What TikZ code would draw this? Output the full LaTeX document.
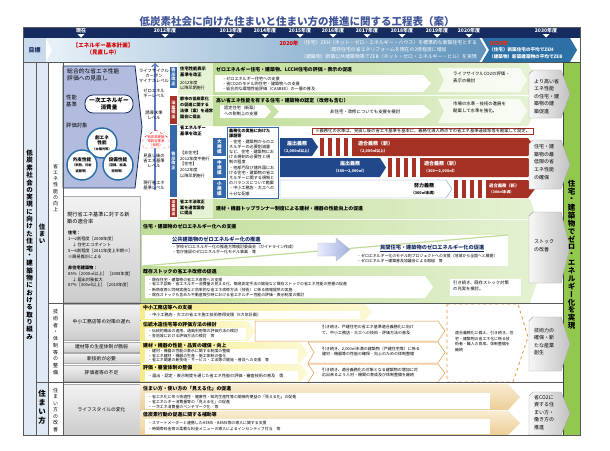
\documentclass[tikz,border=0pt]{standalone}
\usepackage{fontspec}
\setmainfont{Noto Sans CJK JP}
\newfontfamily\tatefont[RawFeature=+vert]{Noto Sans CJK JP}
\usetikzlibrary{calc}
\definecolor{titleblue}{RGB}{64,86,152}
\definecolor{navy}{RGB}{22,44,96}
\definecolor{goalblue}{RGB}{44,112,166}
\definecolor{goalmid}{RGB}{140,184,212}
\definecolor{goallight}{RGB}{232,241,248}
\definecolor{cellblue}{RGB}{200,218,236}
\definecolor{paleblue}{RGB}{224,234,245}
\definecolor{lav}{RGB}{178,188,222}
\definecolor{ringblue}{RGB}{38,108,168}
\definecolor{barblue}{RGB}{34,72,140}
\definecolor{tagblue}{RGB}{52,104,170}
\definecolor{arrowblue}{RGB}{96,124,200}
\definecolor{regred}{RGB}{166,50,38}
\definecolor{leaf}{RGB}{230,242,212}
\definecolor{leafdk}{RGB}{192,221,152}
\definecolor{zgreen}{RGB}{146,200,78}
\definecolor{lemon}{RGB}{246,236,140}
\definecolor{lemonlt}{RGB}{252,249,212}
\definecolor{sandlt}{RGB}{248,236,210}
\definecolor{sand}{RGB}{236,206,150}
\definecolor{amber}{RGB}{226,150,60}
\newcommand\sm{\fontsize{3.2}{4}\selectfont}
\makeatletter
\def\tate@#1{\ifx#1\@nil\else\hbox to 1em{\hss\vbox to\tatep{\vss\hbox{#1}\vss}\hss}\expandafter\tate@\fi}
\newcommand\tate[2][1.1em]{\vbox{\offinterlineskip\tatefont\def\tatep{#1}\tate@#2\@nil}}
\makeatother

\begin{document}
\begin{tikzpicture}[x=1pt,y=-1pt,
 tx/.style={inner sep=0pt,anchor=north west,align=left,font=\fontsize{4.1}{5.1}\selectfont},
 hd/.style={inner sep=0pt,anchor=west,font=\bfseries\fontsize{4.9}{6}\selectfont},
 lbl/.style={inner sep=0pt,align=center,font=\fontsize{4.3}{5}\selectfont},
 tag/.style={inner sep=0pt,minimum width=7pt,text=white,font=\bfseries\fontsize{4.2}{5}\selectfont},
 ltag/.style={fill=tagblue,inner sep=0pt,minimum width=13pt,text=white,font=\bfseries\fontsize{4.6}{5}\selectfont},
 lbox/.style={draw=gray!65,top color=gray!10,bottom color=gray!40,inner sep=0pt,minimum width=77pt,font=\fontsize{4.8}{6}\selectfont},
 gbox/.style={draw=gray!70,left color=gray!6,right color=gray!48},
 gtx/.style={inner sep=0pt,anchor=north west,align=left,font=\fontsize{5}{7.5}\selectfont},
 band/.style={left color=leafdk,right color=leaf},
 ylw/.style={left color=lemon,right color=lemonlt},
 snd/.style={top color=sandlt,bottom color=sand},
 org/.style={draw=amber,fill=white,line width=0.5},
 wbt/.style={inner sep=0pt,text=white,font=\bfseries\fontsize{5}{6}\selectfont},
 vt/.style={inner sep=0pt}]
\useasboundingbox[fill=white] (0,0) rectangle (610,450);
\node[inner sep=0pt,text=titleblue,font=\bfseries\fontsize{10.5}{12}\selectfont] (title) at (297,21.5) {低炭素社会に向けた住まいと住まい方の推進に関する工程表（案）};
\fill[navy] (23,27) rectangle (580,38);
\foreach \x/\yr [count=\i] in {81/現在,165/2012年度,231/2013年度,265/2014年度,300/2015年度,333/2016年度,367/2017年度,402/2018年度,437/2019年度,469/2020年度,546/2030年度}{
 \node[wbt] (yr\i) at (\x,30.5) {\yr};
 \fill[white] (\x-3.5,34)--(\x+3.5,34)--(\x,37.5)--cycle;}
\fill[cellblue] (23,38) rectangle (46,62);
\node[inner sep=0pt,text=navy,font=\bfseries\fontsize{6}{7}\selectfont] (mokuhyo) at (34.5,50) {目標};
\shade[left color=goallight,middle color=goalmid,right color=goalblue!75!white] (46,38)--(480,38)--(487,50)--(480,62)--(46,62)--(52,50)--cycle;
\fill[goalblue] (482,38)--(570,38)--(577,50)--(570,62)--(482,62)--(489,50)--cycle;
\draw[white,line width=0.8] (480,38)--(487,50)--(480,62);
\node[inner sep=0pt,align=center,text=red!85!black,font=\bfseries\fontsize{5.5}{7}\selectfont] (kihon) at (103,48.5) {【エネルギー基本計画】\\（見直し中）};
\node[inner sep=0pt,text=red!85!black,font=\bfseries\fontsize{5.5}{6}\selectfont] (g20) at (289,43) {2020年};
\node[inner sep=0pt,align=center,text=white,font=\fontsize{4.9}{7}\selectfont] (g20t) at (389,50) {（住宅）ZEH（ネット・ゼロ・エネルギー・ハウス）を標準的な新築住宅とする\\既存住宅の省エネリフォームを現在の2倍程度に増加\\（建築物）新築公共建築物等でZEB（ネット・ゼロ・エネルギー・ビル）を実現};
\node[inner sep=0pt,anchor=west,text=red!70!orange,font=\bfseries\fontsize{5.5}{6}\selectfont] (g30) at (489,43) {2030年};
\node[inner sep=0pt,anchor=north west,align=left,text=white,font=\bfseries\fontsize{4.6}{7}\selectfont] (g30t) at (489,47.5) {（住宅）新築住宅の平均でZEH\\（建築物）新築建築物の平均でZEB};
\fill[paleblue] (23,62) rectangle (48,435);
\fill[zgreen] (563,62) rectangle (580,435);
\draw[navy,line width=0.8,fill=lav] (63,66)--(135,66)--(142,127)--(135,188)--(63,188)--cycle;
\node[tx,font=\fontsize{5.8}{7.2}\selectfont] (sogo) at (67,68) {総合的な省エネ性能\\評価への見直し};
\node[tx,font=\fontsize{5.3}{6.6}\selectfont] (kijun) at (66,95) {性能\\基準};
\node[draw=navy,fill=white,line width=0.8,rounded corners=8pt,minimum width=48pt,minimum height=18pt,inner sep=0pt,align=center,font=\bfseries\fontsize{5.6}{7}\selectfont] (ichiji) at (109,104) {一次エネルギー\\消費量};
\node[tx,font=\fontsize{5.3}{6.6}\selectfont] (taisho) at (66,123) {評価対象};
\node[circle,draw=ringblue,line width=1.4,fill=white,minimum size=30pt,inner sep=0pt,align=center,font=\bfseries\fontsize{4.6}{5.4}\selectfont] (soene) at (102,143) {創エネ\\性能\\{\sm（太陽光等）}};
\node[circle,draw=ringblue,line width=1.4,fill=white,minimum size=30pt,inner sep=0pt,align=center,font=\bfseries\fontsize{4.6}{5.4}\selectfont] (gaihi) at (82,165) {外皮性能\\{\sm（断熱、日射}\\{\sm 遮蔽等）}};
\node[circle,draw=ringblue,line width=1.4,fill=white,minimum size=30pt,inner sep=0pt,align=center,font=\bfseries\fontsize{4.6}{5.4}\selectfont] (setsubi) at (118,165) {設備性能\\{\sm（空調、給湯、}\\{\sm 照明等）}};
\coordinate (lvbot) at (155,190); \coordinate (lvtop) at (155,63);
\draw[->,arrowblue,line width=1.6] (lvbot)--(lvtop);
\node[lbl] (lcm) at (154,76) {ライフサイクル\\カーボン\\マイナスレベル};
\node[lbl] (zel) at (154,93) {ゼロエネル\\ギーレベル};
\node[lbl] (yudo) at (154,115) {誘導水準\\レベル};
\draw[red,dashed,fill=white] (143,148)--(143,138)--(156,130)--(169,138)--(169,148)--cycle;
\node[lbl,text=red,font=\fontsize{3.4}{4}\selectfont] (ninteilv) at (156,141.5) {低炭素建築\\物認定基準\\（仮称）};
\node[lbl] (minaoshi) at (154,161) {見直し後の\\省エネ基準\\レベル};
\node[lbl] (genko) at (154,185) {現行省エネ\\基準レベル};
\node[tag,fill=tagblue,minimum height=21pt] (kokuji1) at (173.5,77) {\tate{告示改正}};
\node[tag,fill=regred,minimum height=28pt] (hoan1) at (173.5,110) {\tate{法案提出}};
\node[tag,fill=tagblue,minimum height=72pt] (kokuji2) at (173.5,161) {\tate{告示改正}};
\node[tag,fill=regred,minimum height=18pt,font=\bfseries\fontsize{3.8}{4}\selectfont] (hoan2) at (173.5,208) {\tate{法案提出}};
\fill[leaf] (178,63) rectangle (213,95); \fill[leaf] (178,96) rectangle (213,126);
\node[tx,font=\bfseries\fontsize{4.3}{5.6}\selectfont] (hyoji) at (180,67) {住宅性能表示\\基準を改正};
\node[tx] (hyojit) at (180,81) {2012年度\\以降早期施行};
\node[tx,font=\bfseries\fontsize{4.1}{5.8}\selectfont] (toshi) at (180,97) {都市の低炭素化\\の促進に関する\\法律（案）を通常\\国会に提出};
\node[tx,font=\bfseries\fontsize{4.3}{5.4}\selectfont] (shoene) at (180,126) {省エネルギー\\基準を改正};
\node[tx,font=\fontsize{4.1}{5.6}\selectfont] (shoenet) at (180,151) {【非住宅】\\2012年度中施行\\【住宅】\\2012年度\\以降早期施行};
\shade[band] (213,63)--(528,63)--(535,79)--(528,95)--(213,95)--cycle;
\node[hd] (zeroeh) at (216,70) {ゼロエネルギー住宅・建築物、LCCM住宅の評価・表示の促進};
\fill[white] (215,75)--(423,75)--(431,83.5)--(423,92)--(215,92)--cycle;
\node[tx] (zeroeb) at (222,76.5) {・ゼロエネルギー住宅への支援\\・省CO2のモデル的住宅・建築物への支援\\・総合的な環境性能評価（CASBEE）の一層の普及};
\fill[white,opacity=0.75] (438,68)--(520,68)--(527,80)--(520,92)--(438,92)--(444,80)--cycle;
\node[tx,font=\fontsize{4.4}{6.2}\selectfont] (lca) at (453,72) {ライフサイクルCO2の評価・\\表示の検討};
\shade[band] (213,96)--(528,96)--(535,111)--(528,126)--(213,126)--cycle;
\node[hd] (nintei) at (216,100.5) {高い省エネ性能を有する住宅・建築物の認定（改修も含む）};
\fill[white] (220,105)--(265,105)--(271,111.5)--(265,118)--(220,118)--cycle;
\node[tx,font=\fontsize{4.2}{5.6}\selectfont] (zeisei) at (224,106) {認定住宅（新築）\\への税制上の支援};
\fill[white] (273,105)--(423,105)--(431,111.5)--(423,118)--(273,118)--(279,111.5)--cycle;
\node[tx,anchor=west,font=\fontsize{4.4}{5.6}\selectfont] (hijukai) at (330,111.5) {非住宅・改修についても支援を検討};
\fill[white,opacity=0.75] (438,99)--(520,99)--(527,111)--(520,123)--(438,123)--(444,111)--cycle;
\node[tx,font=\fontsize{4.4}{6.2}\selectfont] (shijo) at (453,102) {市場の水準・技術の進展を\\勘案して水準を強化。};
\node[draw=regred,fill=white,inner sep=1.3pt,anchor=north west,minimum width=221pt,font=\fontsize{4.3}{5}\selectfont] (note) at (312,127.5) {※義務化の水準は、見直し後の省エネ基準を基本に、義務化導入時点での省エネ基準達成率等を勘案して設定。};
\node[ltag,minimum height=18pt] (dai) at (219.5,147) {\tate{大規模}};
\node[ltag,minimum height=19pt] (chu) at (219.5,168) {\tate{中規模}};
\node[ltag,minimum height=18pt] (sho) at (219.5,189) {\tate{小規模}};
\draw[tagblue,fill=white] (227,127) rectangle (278,198);
\node[tx,font=\fontsize{4.1}{5.2}\selectfont] (kadai) at (229,129) {\textbf{義務化の実施に向けた}\\\textbf{課題等}\\・住宅・建築物からのエ\\ネルギーの必要削減量\\など、住宅・建築物にお\\ける規制の必要性と規\\制の程度\\・他部門及び諸外国にお\\ける住宅・建築物の省エ\\ネルギーに関する規制と\\のバランスについて勘案\\・中小工務店・大工への\\十分な配慮};
\fill[barblue] (280,138)--(312,138)--(318,147)--(312,156)--(280,156)--cycle;
\node[wbt,align=center,font=\bfseries\fontsize{5}{7}\selectfont] (tdk1) at (297,147) {届出義務\\{\fontsize{3.8}{4}\selectfont（2,000㎡以上）}};
\foreach \x in {320,328,336,344}{\fill[regred] (\x,138) rectangle ++(4,18);}
\fill[regred] (352,138)--(528,138)--(535,147)--(528,156)--(352,156)--cycle;
\node[wbt,anchor=west,align=left,font=\bfseries\fontsize{5}{7}\selectfont] (tkg1) at (358,147) {適合義務（新）\\{\fontsize{3.8}{4}\selectfont（2,000㎡以上）}};
\fill[barblue] (280,158)--(380,158)--(386,167.5)--(380,177)--(280,177)--cycle;
\node[wbt,align=center,font=\bfseries\fontsize{5}{7}\selectfont] (tdk2) at (350,167.5) {届出義務\\{\fontsize{3.8}{4}\selectfont（300～2,000㎡）}};
\foreach \x in {388,396,404,412}{\fill[regred] (\x,158) rectangle ++(4,19);}
\fill[regred] (420,158)--(528,158)--(535,167.5)--(528,177)--(420,177)--cycle;
\node[wbt,anchor=west,align=left,font=\bfseries\fontsize{5}{7}\selectfont] (tkg2) at (424,167.5) {適合義務（新）\\{\fontsize{3.8}{4}\selectfont（300～2,000㎡）}};
\draw[tagblue!70,fill=white] (280,180)--(446,180)--(452,189)--(446,198)--(280,198)--cycle;
\node[inner sep=0pt,align=center,font=\bfseries\fontsize{5}{7}\selectfont] (dryk) at (424,189) {努力義務\\{\fontsize{3.8}{4}\selectfont（300㎡未満）}};
\foreach \x in {454,462,470,478}{\fill[regred] (\x,180) rectangle ++(4,18);}
\fill[regred] (486,180)--(528,180)--(535,189)--(528,198)--(486,198)--cycle;
\node[wbt,anchor=west,align=left,font=\bfseries\fontsize{4.3}{6.5}\selectfont] (tkg3) at (489,189) {適合義務（新）\\{\fontsize{3.6}{4}\selectfont（300㎡未満）}};
\shade[band] (178,199)--(530,199)--(548,251)--(530,303)--(140,303)--(140,219)--(178,219)--cycle;
\fill[leaf] (178,199) rectangle (213,218);
\draw[white,line width=1] (140,219.5)--(536,219.5);
\node[tx,font=\bfseries\fontsize{4.1}{5.6}\selectfont] (kaisei) at (180,200) {省エネ法改正\\案を通常国会\\に提出};
\node[hd] (toprun) at (216,209) {建材・機器トップランナー制度による建材・機器の性能向上の促進};
\node[hd] (zesien) at (143,227) {住宅・建築物のゼロエネルギー化への支援};
\fill[white] (142,235) rectangle (508,266);
\draw[leafdk,line width=1.2] (142,266)--(508,235);
\shade[left color=blue!8,right color=arrowblue!60,draw=gray!50] (318,243)--(336,243)--(336,238)--(350,249.5)--(336,261)--(336,256)--(318,256)--cycle;
\node[inner sep=0pt,anchor=west,text=navy,font=\bfseries\fontsize{5.2}{6}\selectfont] (kokyo) at (172,240) {\underline{公共建築物のゼロエネルギー化の推進}};
\node[tx,font=\fontsize{4}{5.2}\selectfont] (kokyob) at (172,245) {・学校ゼロエネルギー化の推進方策検討委員会（ガイドライン作成）\\・官庁施設のゼロエネルギー化モデル事業　等};
\node[inner sep=0pt,anchor=west,text=navy,font=\bfseries\fontsize{5.2}{6}\selectfont] (minkan) at (380,248.5) {\underline{民間住宅・建築物のゼロエネルギー化の促進}};
\node[tx,font=\fontsize{3.9}{5.2}\selectfont] (minkanb) at (357,254) {・ゼロエネルギー化のモデル的プロジェクトへの支援（地域から全国へと展開）\\・ゼロエネルギー建築普及協議会による取組　等};
\node[hd] (kizon) at (143,271.5) {既存ストックの省エネ改修の促進};
\fill[white] (145,276)--(425,276)--(433,287)--(425,298)--(145,298)--cycle;
\node[tx,font=\fontsize{3.9}{5}\selectfont] (kizonb) at (148,277.5) {・既存住宅・建築物の省エネ改修への支援\\・省エネ診断・省エネルギー消費量の見える化、簡易測定手法の開発など既存ストックの省エネ性能の把握の促進\\・断熱改修と同時実施など効率的な省エネ改修方法（技術）に係る情報提供の実施\\・既存ストックも含めた不動産取引時における省エネルギー性能の評価・表示制度の検討};
\fill[white] (450,279) rectangle (521,296);
\node[tx,font=\fontsize{4.3}{6}\selectfont] (hikitsugi) at (453,281) {引き続き、既存ストック対策\\の充実を検討。};
\draw[lbox] (63,196) rectangle (140,302);
\node[tx,font=\fontsize{5.2}{7}\selectfont] (tekigo) at (67,212) {現行省エネ基準に対する新\\築の適合率};
\node[tx,font=\fontsize{4.2}{6}\selectfont] (jutaku) at (68,231) {\textbf{住宅：}\\1～2割程度［2008年度］\\　↓ 住宅エコポイント\\5～6割程度［2011年度上半期※］\\※簡易推計による};
\node[tx,font=\fontsize{4.2}{5.6}\selectfont] (hijutaku) at (68,266) {\textbf{非住宅建築物：}\\85\%［2000㎡以上］［2008年度］\\　↓ 届出対象拡大\\87\%［300㎡以上］［2010年度］};
\node[lbox,minimum height=36pt] (chusho) at (101.5,322) {中小工務店等の対策の遅れ};
\node[lbox,minimum height=10pt] (seisan) at (101.5,347) {建材等の生産体制が脆弱};
\node[lbox,minimum height=10pt] (shingi) at (101.5,358.5) {新技術が必要};
\node[lbox,minimum height=16pt] (hyokasha) at (101.5,373) {評価者等の不足};
\node[lbox,minimum height=51pt] (lifestyle) at (101.5,409.5) {ライフスタイルの変化};
\shade[ylw] (140,304)--(365,304)--(372,312)--(365,320)--(140,320)--cycle;
\node[hd] (chushien) at (143,307.5) {中小工務店等への支援};
\fill[white] (145,311) rectangle (360,318.5);
\node[tx,anchor=west] (chushienb) at (148,314.8) {・中小工務店・大工の省エネ施工技術修得支援（5カ年計画）};
\shade[ylw] (140,321)--(248,321)--(255,331)--(248,341)--(140,341)--cycle;
\node[hd] (dento) at (143,324.5) {伝統木造住宅等の評価方法の検討};
\fill[white] (145,328) rectangle (246,340);
\node[tx,font=\fontsize{3.9}{5}\selectfont] (dentob) at (148,329) {・伝統的構法の適用、通風利用等の評価方法の検討\\・各地域における評価方法の検討　等};
\draw[org] (255,321)--(438,321)--(445,331)--(438,341)--(255,341)--cycle;
\node[tx,font=\fontsize{4}{5.6}\selectfont] (dentor) at (322,325) {引き続き、戸建住宅の省エネ基準適合義務化に向け\\て、中小工務店・大工への技術・評価方法の普及};
\shade[ylw] (140,342)--(300,342)--(308,352.5)--(300,363)--(140,363)--cycle;
\node[hd] (kenzai) at (143,345.5) {建材・機器の性能・品質の確保・向上};
\fill[white] (145,348.5) rectangle (298,362.5);
\node[tx,font=\fontsize{3.9}{4.6}\selectfont] (kenzaib) at (148,349.3) {・建材・機器の性能の表示に関する制度の整備\\・省エネ建材・機器の生産・施工体制の強化\\・省エネ関連の新技術・サービス・工法等の開発・普及への支援　等};
\draw[org] (308,342)--(438,342)--(445,352.5)--(438,363)--(308,363)--(314,352.5)--cycle;
\node[tx,font=\fontsize{4}{5.6}\selectfont] (kenzair) at (322,346.5) {引き続き、2,000㎡未満の建築物（戸建住宅等）に係る\\建材・機器等の性能の確保・向上のための体制整備};
\shade[ylw] (140,364)--(300,364)--(308,373)--(300,382)--(140,382)--cycle;
\node[hd] (shinsa) at (143,367.5) {評価・審査体制の整備};
\fill[white] (145,371) rectangle (298,380.5);
\node[tx,anchor=west] (shinsab) at (148,375.8) {・届出・認定・表示制度を通じた省エネ性能の評価・審査技術の普及　等};
\draw[org] (308,364)--(438,364)--(445,373)--(438,382)--(308,382)--(314,373)--cycle;
\node[tx,font=\fontsize{4}{5.6}\selectfont] (shinsar) at (322,367.5) {引き続き、適合義務化の対象となる建築物の増加に対\\応出来るよう人材・機関の育成及び体制整備を継続};
\draw[amber,dashed,line width=0.8] (447,304)--(518,304)--(528,337)--(513,382)--(447,382)--cycle;
\node[tx,font=\fontsize{3.9}{5.6}\selectfont] (sonae) at (455,331) {適合義務化に備え、引き続き、住\\宅・建築物の省エネ化に係る技\\術者・職人の育成、体制整備を\\継続};
\shade[snd] (140,384)--(508,384)--(520,397)--(508,410)--(140,410)--cycle;
\shade[snd] (140,411)--(508,411)--(520,423)--(508,435)--(140,435)--cycle;
\fill[white] (145,393) rectangle (490,409);
\fill[white] (145,419) rectangle (490,434);
\node[hd] (mieruka) at (143,388.5) {住まい方・使い方の「見える化」の促進};
\node[tx,font=\fontsize{3.9}{5.2}\selectfont] (mierukab) at (148,394.5) {・省エネ化に伴う快適性・健康性・知的生産性等の間接的便益の「見える化」の促進\\・省エネルギー消費量等の「見える化」の促進\\・一次エネ消費量のベンチマーク化　等};
\node[hd] (kodo) at (143,415) {低炭素行動の促進に関する補助等};
\node[tx,font=\fontsize{3.9}{5.6}\selectfont] (kodob) at (148,421) {・スマートメーターと連携したHEMS・BEMS等の導入に関する支援\\・時間帯料金等の柔軟な料金メニューの導入によるインセンティブ付与　等};
\draw[gray!70!black,line width=0.4] (23,62)--(580,62) (36,62)--(36,435) (48,62)--(48,435) (63,62)--(63,435) (48,303)--(563,303) (36,382)--(563,382);
\draw[black!75,line width=0.9] (563,62) rectangle (580,435);
\draw[gbox] (529,74)--(533,70)--(561,70)--(570,94)--(561,118)--(529,118)--cycle;
\node[gtx] (koseino) at (534,79) {より高い省\\エネ性能\\の住宅・建\\築物の建\\築促進};
\draw[gbox] (529,144)--(533,140)--(561,140)--(570,164.5)--(561,189)--(529,189)--cycle;
\node[gtx,font=\fontsize{5}{7.7}\selectfont] (saitei) at (534,144) {住宅・建\\築物の最\\低限の省\\エネ性能\\の確保};
\draw[gbox] (529,216)--(533,212)--(561,212)--(570,247.5)--(561,283)--(529,283)--cycle;
\node[gtx,font=\fontsize{5}{8}\selectfont] (stock) at (534,239) {ストック\\の改善};
\draw[gbox] (529,321)--(533,317)--(561,317)--(570,344)--(561,371)--(529,371)--cycle;
\node[gtx,font=\fontsize{5}{7.4}\selectfont] (gijutsuryoku) at (534,328) {技術力の\\確保・新\\たな産業\\創生};
\draw[gbox] (529,396)--(533,392)--(561,392)--(570,413.5)--(561,435)--(529,435)--cycle;
\node[gtx,font=\fontsize{5}{7.4}\selectfont] (shoco2) at (534,395) {省CO2に\\資する住\\まい方・\\働き方の\\推進};
\node[vt,font=\bfseries\fontsize{7.5}{8}\selectfont] (zerov) at (571.5,255) {\tate[1.05em]{住宅・建築物でゼロ・エネルギー化を実現}};
\node[vt,font=\bfseries\fontsize{6.5}{7}\selectfont] (mainv) at (29.5,245) {\tate[1.13em]{低炭素社会の実現に向けた住宅・建築物における取り組み}};
\node[vt,font=\bfseries\fontsize{6.5}{7}\selectfont] (sumai) at (42,234) {\tate[1.05em]{住まい}};
\node[vt,font=\fontsize{5}{6}\selectfont] (seino) at (55.5,188) {\tate[1.25em]{省エネ性能の向上}};
\node[vt,font=\fontsize{5}{6}\selectfont] (taisei) at (55.5,342) {\tate[1.35em]{技術者・体制等の整備}};
\node[vt,font=\bfseries\fontsize{7.5}{8}\selectfont] (sumaikata) at (42,407) {\tate[1.2em]{住まい方}};
\node[vt,font=\fontsize{5}{6}\selectfont] (kaizen) at (55.5,410) {\tate[1.3em]{住まい方の改善}};
\draw[gray!70!black,line width=0.5] (23,27) rectangle (580,435);
\end{tikzpicture}
\end{document}
